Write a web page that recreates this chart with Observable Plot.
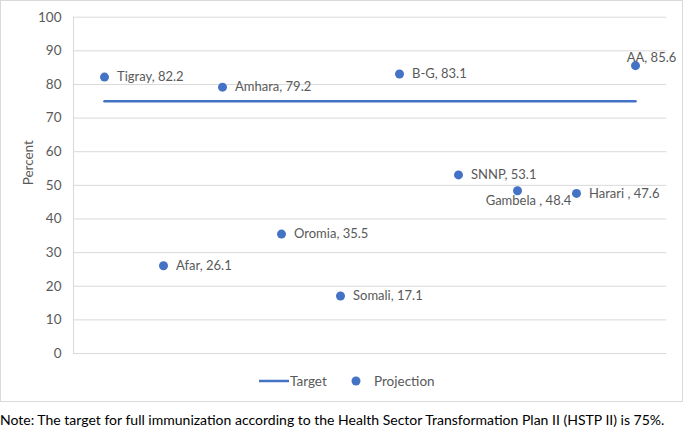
<!DOCTYPE html>
<html>
<head>
<meta charset="utf-8">
<script src="https://cdn.jsdelivr.net/npm/d3@7"></script>
<script src="https://cdn.jsdelivr.net/npm/@observablehq/plot@0.6"></script>
<style>
  html, body { margin: 0; padding: 0; background: #fff; overflow: hidden; }
  #wrap { position: relative; width: 685px; height: 432px; font-family: Lato, "Open Sans", sans-serif; }
  #box { position: absolute; left: 0; top: 0; width: 683px; height: 402px; border: 1px solid #d9d9d9; box-sizing: border-box; }
  #chart { position: absolute; left: 0; top: 0; }
  #legend { position: absolute; top: 372px; left: 0; width: 685px; height: 18px; font-size: 13px; color: #595959; }
  #note { position: absolute; left: 0; top: 412px; white-space: nowrap; color: #000; font-family: Lato, sans-serif; line-height: 1.2; }
</style>
</head>
<body>
<div id="wrap">
  <div id="box"></div>
  <div id="chart"></div>
  <div id="legend">
    <svg width="685" height="18" style="position:absolute;left:0;top:0">
      <line x1="259" x2="289" y1="9" y2="9" stroke="#4472C4" stroke-width="2.5"></line>
      <text x="290" y="13.5" fill="#595959" font-size="13.5" font-family="Lato, sans-serif">Target</text>
      <circle cx="356" cy="9" r="4.5" fill="#4472C4"></circle>
      <text x="374" y="13.5" fill="#595959" font-size="13.5" font-family="Lato, sans-serif">Projection</text>
    </svg>
  </div>
  <div id="note">Note: The target for full immunization according to the Health Sector Transformation Plan II (HSTP II) is 75%.</div>
</div>
<script>
const regions = ["Tigray", "Afar", "Amhara", "Oromia", "Somali", "B-G", "SNNP", "Gambela", "Harari", "AA"];
const projection = [82.2, 26.1, 79.2, 35.5, 17.1, 83.1, 53.1, 48.4, 47.6, 85.6];
const labels = ["Tigray, 82.2", "Afar, 26.1", "Amhara, 79.2", "Oromia, 35.5", "Somali, 17.1", "B-G, 83.1", "SNNP, 53.1", "Gambela , 48.4", "Harari , 47.6", "AA, 85.6"];
const target = 75;
const yTicks = [0, 10, 20, 30, 40, 50, 60, 70, 80, 90, 100];

const data = regions.map((r, i) => ({region: r, value: projection[i], label: labels[i]}));
const blue = "#4472C4";
const gray = "#595959";

const chart = Plot.plot({
  width: 685,
  height: 404,
  marginLeft: 73,
  marginRight: 18.7,
  marginTop: 16.7,
  marginBottom: 51,
  style: {fontFamily: "Lato, sans-serif", fontSize: "13px", color: gray, background: "transparent"},
  x: {type: "point", domain: regions, padding: 0.5, axis: null},
  y: {domain: [0, 100], label: null},
  marks: [
    Plot.gridY(yTicks, {stroke: "#d9d9d9", strokeOpacity: 1, strokeWidth: 1}),
    Plot.frame({anchor: "left", stroke: "#d9d9d9", strokeOpacity: 1}),
    Plot.axisY(yTicks, {tickSize: 0, tickPadding: 12, fill: gray, fontSize: 13.5, label: null}),
    Plot.text(["Percent"], {frameAnchor: "left", dx: -45, rotate: -90, fill: gray, fontSize: 13.5}),
    Plot.line(regions, {x: d => d, y: () => target, stroke: blue, strokeWidth: 2.5}),
    Plot.dot(data, {x: "region", y: "value", r: 4.5, fill: blue, stroke: null}),
    Plot.text(data.filter(d => d.region !== "Gambela" && d.region !== "AA"), {x: "region", y: "value", text: "label", textAnchor: "start", dx: 12.5, fill: gray, fontSize: 13}),
    Plot.text(data.filter(d => d.region === "Gambela"), {x: "region", y: "value", text: "label", textAnchor: "middle", dx: 11, dy: 10, fill: gray, fontSize: 13}),
    Plot.text(data.filter(d => d.region === "AA"), {x: "region", y: "value", text: "label", textAnchor: "middle", dx: 16, dy: -8, fill: gray, fontSize: 13})
  ]
});
document.getElementById("chart").appendChild(chart);

// fit note width
const note = document.getElementById("note");
const ctx = document.createElement("canvas").getContext("2d");
ctx.font = "16px Lato";
const w = ctx.measureText(note.textContent).width;
note.style.fontSize = (16 * 667 / w).toFixed(2) + "px";
</script>
</body>
</html>
